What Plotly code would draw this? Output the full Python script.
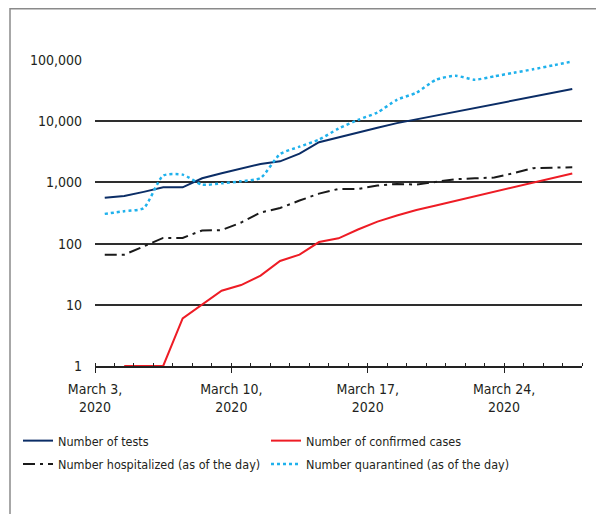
import pandas as pd
import plotly.graph_objects as go

start_date = "2020-03-03"
n_days = 25
dates = pd.date_range(start_date, periods=n_days) + pd.Timedelta(hours=12)

tests = [560, 600, 700, 830, 830, 1170, 1410, 1660, 2000, 2210, 2950, 4540, 5490,
         6560, 7840, 9300, 10700, 12350, 14250, 16440, 18970, 21900, 25200, 29000, 33500]
confirmed = [None, 1, 1, 1, 6, 10, 17, 21, 30, 52, 66, 106, 122, 170, 229, 287, 353,
             420, 499, 593, 705, 838, 995, 1185, 1400]
hospitalized = [66, 66, 90, 124, 124, 164, 166, 221, 322, 381, 505, 656, 783, 783, 887,
                945, 920, 1010, 1130, 1167, 1200, 1420, 1710, 1740, 1760]
quarantined = [306, 338, 380, 1290, 1340, 920, 966, 1042, 1180, 2900, 3840, 5000, 7580,
               10500, 13900, 22400, 29200, 47500, 55300, 47700, 54200, 61900, 70600, 81700, 94500]

x_tick_dates = ["2020-03-03", "2020-03-10", "2020-03-17", "2020-03-24"]
x_tick_text = ["March 3,<br>2020", "March 10,<br>2020", "March 17,<br>2020", "March 24,<br>2020"]
y_tick_vals = [1, 10, 100, 1000, 10000, 100000]
y_tick_text = ["1", "10", "100", "1,000", "10,000", "100,000"]

FONT = "DejaVu Sans Condensed, sans-serif"
TXT = "#231f20"
FS = 14
LEG_FS = 12.5

# plot area geometry (figure pixels)
L, T, W, H = 87, 52, 487, 306
FIG_W, FIG_H = 604, 514

fig = go.Figure()
fig.add_trace(go.Scatter(x=dates, y=tests, mode="lines", name="Number of tests",
                         legend="legend", legendgroup="a",
                         line=dict(color="#0b2d66", width=2)))
fig.add_trace(go.Scatter(x=dates, y=confirmed, mode="lines", name="Number of confirmed cases",
                         legend="legend2", legendgroup="b",
                         line=dict(color="#ee1c25", width=2)))
fig.add_trace(go.Scatter(x=dates, y=hospitalized, mode="lines",
                         name="Number hospitalized (as of the day)",
                         legend="legend", legendgroup="c",
                         line=dict(color="#1a1a1a", width=2, dash="12px,5px,3px,5px")))
fig.add_trace(go.Scatter(x=dates, y=quarantined, mode="lines",
                         name="Number quarantined (as of the day)",
                         legend="legend2", legendgroup="d",
                         line=dict(color="#1fb1ec", width=2.5, dash="dot", shape="spline", smoothing=0.6)))


def px_x(v):
    return (v - L) / W


def px_y(v):
    return (T + H - v) / H


legend_common = dict(orientation="v", xref="paper", yref="paper",
                     xanchor="left", yanchor="top",
                     font=dict(family=FONT, size=LEG_FS, color=TXT),
                     itemwidth=30, tracegroupgap=4, bgcolor="rgba(0,0,0,0)")

fig.update_layout(
    width=FIG_W, height=FIG_H,
    margin=dict(l=L, r=FIG_W - L - W, t=T, b=FIG_H - T - H, autoexpand=False),
    paper_bgcolor="white", plot_bgcolor="white",
    font=dict(family=FONT, size=FS, color=TXT),
    showlegend=True,
    legend=dict(x=px_x(10), y=px_y(418), **legend_common),
    legend2=dict(x=px_x(258), y=px_y(418), **legend_common),
    xaxis=dict(type="date", range=["2020-03-03", "2020-03-28"],
               tickvals=x_tick_dates, ticktext=x_tick_text,
               ticks="outside", ticklen=5, tickwidth=1.3, tickcolor="#222",
               showline=True, linecolor="#222", linewidth=1.5,
               showgrid=False, zeroline=False, ticklabelstandoff=4,
               minor=dict(dtick=86400000, tick0="2020-03-03", ticks="inside",
                          ticklen=3, tickwidth=1.2, tickcolor="#222", showgrid=False)),
    yaxis=dict(type="log", range=[0, 5],
               tickvals=y_tick_vals, ticktext=y_tick_text,
               ticks="", showline=False, showgrid=True,
               gridcolor="#2e2e2e", gridwidth=1.5, zeroline=False,
               ticklabelstandoff=12),
    shapes=[
        dict(type="line", xref="paper", yref="paper", x0=px_x(2), x1=px_x(2),
             y0=px_y(0), y1=px_y(FIG_H + 5), line=dict(color="#8a8a8a", width=1.5)),
        dict(type="line", xref="paper", yref="paper", x0=px_x(2), x1=px_x(FIG_W + 5),
             y0=px_y(0.75), y1=px_y(0.75), line=dict(color="#8a8a8a", width=1.5)),
    ],
)

fig.write_html("out.html")
